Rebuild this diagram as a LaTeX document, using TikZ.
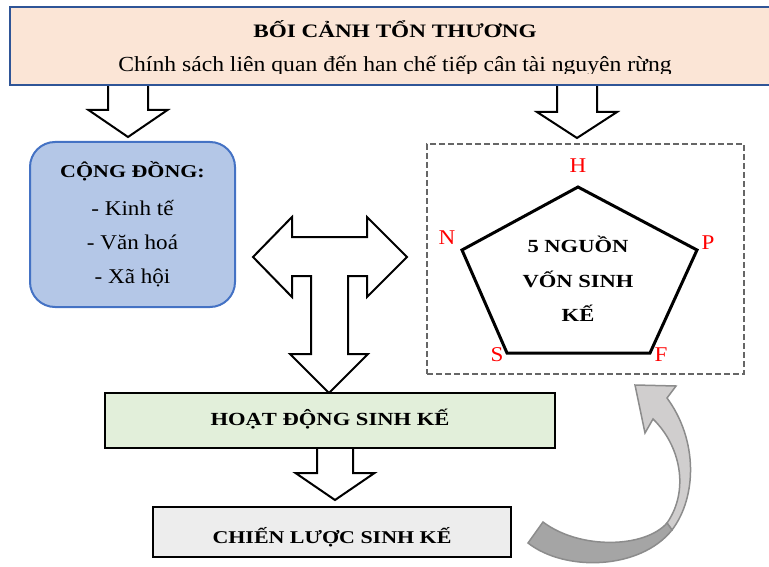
\documentclass[tikz,border=0pt]{standalone}
\usepackage{fontspec}
\setmainfont{Liberation Serif}[FakeStretch=1.1]
\newfontfamily\capsfont{Liberation Serif}[FakeStretch=1.22]

\definecolor{ctxfill}{HTML}{FBE5D6}
\definecolor{ctxline}{HTML}{2F5597}
\definecolor{commfill}{HTML}{B4C7E7}
\definecolor{commline}{HTML}{4472C4}
\definecolor{hoatfill}{HTML}{E2EFDA}
\definecolor{chienfill}{HTML}{EDEDED}
\definecolor{dashgray}{HTML}{666666}
\definecolor{curvelight}{HTML}{D0CECE}
\definecolor{curvedark}{HTML}{A5A5A5}
\definecolor{curveline}{HTML}{8C8C8C}

% down block arrow: centre x, top y, shaft half, head half, head y, tip y
\newcommand{\downblock}[6]{%
  \draw[blockarrow] (#1-#3,#2) -- (#1-#3,#5) -- (#1-#4,#5) -- (#1,#6)
    -- (#1+#4,#5) -- (#1+#3,#5) -- (#1+#3,#2);}

\begin{document}
\begin{tikzpicture}[x=1pt,y=-1pt,line join=miter,
    capstext/.style={font=\capsfont\bfseries\fontsize{#1}{#1}\selectfont},
    plaintext/.style={font=\fontsize{#1}{#1}\selectfont},
    blockarrow/.style={draw=black,fill=white,line width=2pt},
    vertex/.style={text=red,font=\fontsize{21}{21}\selectfont,inner sep=0pt},
    stagebox/.style={draw=black,line width=2.5pt,inner sep=0pt}]

\useasboundingbox (0,0) rectangle (769,567);

\downblock{128}{85}{20}{39.5}{110}{137}
\downblock{577}{85}{20}{40}{112}{138}
\downblock{335}{448}{18}{39.5}{473}{500}

\node[draw=ctxline,fill=ctxfill,line width=2.5pt,minimum width=765pt,
  minimum height=78pt,inner sep=0pt] (ctx) at (392.5,46) {};
\node[capstext=19,anchor=base] (ctxtitle) at (395,38) {BỐI CẢNH TỔN THƯƠNG};
\begin{scope}
  \clip (10,7) rectangle (775,74);
  \node[plaintext=21.5,anchor=base] (ctxsub) at (395,72)
    {Chính sách liên quan đến han chế tiếp cân tài nguyên rừng};
\end{scope}

\node[draw=commline,fill=commfill,line width=2pt,rounded corners=25pt,
  minimum width=205pt,minimum height=165pt,inner sep=0pt,align=center,
  font=\fontsize{21}{34}\selectfont] (comm) at (132.5,224.5)
  {{\capsfont\bfseries\fontsize{18}{34}\selectfont CỘNG ĐỒNG:}\\[4pt]
   - Kinh tế\\- Văn hoá\\- Xã hội};

\draw[blockarrow] (253,257) -- (292,217) -- (292,237) -- (367,237) -- (367,217)
  -- (407,257) -- (367,297) -- (367,276) -- (348,276) -- (348,354) -- (368,354)
  -- (329,393) -- (290,354) -- (311,354) -- (311,276) -- (292,276) -- (292,297)
  -- cycle;

\node[draw=dashgray,dash pattern=on 6pt off 3pt,line width=2pt,
  minimum width=317pt,minimum height=230pt,inner sep=0pt] (capital) at (585.5,259) {};

\coordinate (vH) at (578,187);
\coordinate (vP) at (697,250);
\coordinate (vF) at (650,353);
\coordinate (vS) at (507,353);
\coordinate (vN) at (462,250);
\draw[line width=3pt] (vH) -- (vP) -- (vF) -- (vS) -- (vN) -- cycle;

\node[vertex] (lH) at (578,166) {H};
\node[vertex] (lN) at (447,237.5) {N};
\node[vertex] (lP) at (708,242.5) {P};
\node[vertex] (lS) at (497,355) {S};
\node[vertex] (lF) at (661,355) {F};

\node[capstext=18.5,align=center,font=\capsfont\bfseries\fontsize{18.5}{34.5}\selectfont]
  (pentx) at (578,279) {5 NGUỒN\\VỐN SINH\\KẾ};

\node[stagebox,fill=hoatfill,minimum width=450pt,minimum height=55pt,
  capstext=18.5,text height=13pt,text depth=4pt] (hoat) at (330,420.5) {HOẠT ĐỘNG SINH KẾ};
\node[stagebox,fill=chienfill,minimum width=358pt,minimum height=50pt,
  capstext=18,text height=22pt,text depth=0pt] (chien) at (332,532) {CHIẾN LƯỢC SINH KẾ};

\draw[draw=curveline,fill=curvelight,line width=1.5pt] (672,530)
  .. controls (697,497) and (698,440) .. (667,398) -- (676,386) -- (635,385)
  -- (645,433) -- (653,419) .. controls (680,445) and (690,490) .. (667,523) -- cycle;
\draw[draw=curveline,fill=curvedark,line width=1.5pt] (528,543)
  .. controls (565,572) and (640,570) .. (672,530) -- (667,523)
  .. controls (645,548) and (580,550) .. (543,522) -- cycle;

\end{tikzpicture}
\end{document}
